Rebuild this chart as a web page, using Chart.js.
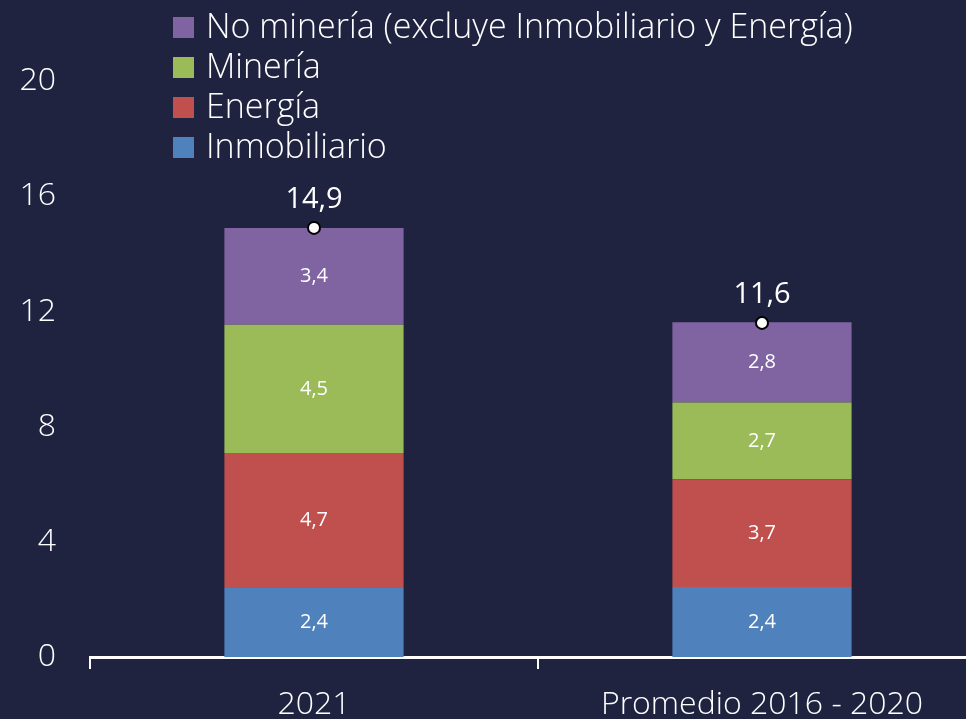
<!DOCTYPE html>
<html>
<head>
<meta charset="utf-8">
<script src="https://cdn.jsdelivr.net/npm/chart.js@4.4.1/dist/chart.umd.min.js"></script>
<style>
  html, body { margin: 0; padding: 0; background: #1f2340; overflow: hidden; }
  #wrap { position: relative; width: 994px; height: 719px; }
</style>
</head>
<body>
<div id="wrap"><canvas id="c"></canvas></div>
<script>
const categories = ['2021', 'Promedio 2016 - 2020'];
const inmobiliario = [2.40, 2.43];
const energia = [4.68, 3.74];
const mineria = [4.46, 2.67];
const noMineria = [3.36, 2.78];
const totals = [14.9, 11.6];
const yTicks = [0, 4, 8, 12, 16, 20];

const FONT = "'Open Sans', 'Segoe UI', sans-serif";
const fmt = v => v.toFixed(1).replace('.', ',');

const labelPlugin = {
  id: 'labels',
  afterDraw(chart) {
    const ctx = chart.ctx;
    ctx.save();
    ctx.fillStyle = '#ffffff';
    ctx.textAlign = 'center';
    ctx.textBaseline = 'middle';
    chart.data.datasets.forEach((ds, di) => {
      const meta = chart.getDatasetMeta(di);
      meta.data.forEach((el, i) => {
        const v = ds.data[i];
        if (ds.type === 'line') {
          ctx.font = "400 29px " + FONT;
          ctx.fillText(fmt(v), el.x, el.y - 28);
        } else {
          ctx.font = "400 20px " + FONT;
          ctx.fillText(fmt(v), el.x, (el.y + el.base) / 2);
        }
      });
    });
    // legend (reversed order, vertical list)
    const items = chart.data.datasets.filter(d => d.type !== 'line').slice().reverse();
    ctx.textAlign = 'left';
    ctx.font = "300 34px " + FONT;
    items.forEach((d, i) => {
      const cy = 27.5 + i * 40;
      ctx.fillStyle = d.backgroundColor;
      ctx.fillRect(173, cy - 10.5, 21, 21);
      ctx.fillStyle = '#ffffff';
      ctx.fillText(d.label, 206, cy + 1);
    });
    ctx.restore();
  }
};

new Chart(document.getElementById('c'), {
  data: {
    labels: categories,
    datasets: [
      { type: 'line', label: 'Total', data: totals, stack: 'total', order: 0,
        showLine: false, pointRadius: 6, pointBackgroundColor: '#ffffff',
        pointBorderColor: '#000000', pointBorderWidth: 2 },
      { type: 'bar', label: 'Inmobiliario', data: inmobiliario, backgroundColor: '#4f81bd', order: 1 },
      { type: 'bar', label: 'Energía', data: energia, backgroundColor: '#c0504d', order: 1 },
      { type: 'bar', label: 'Minería', data: mineria, backgroundColor: '#9bbb59', order: 1 },
      { type: 'bar', label: 'No minería (excluye Inmobiliario y Energía)', data: noMineria, backgroundColor: '#8064a2', order: 1 }
    ]
  },
  options: {
    responsive: true,
    maintainAspectRatio: false,
    animation: false,
    layout: { padding: { top: 81, left: 0, right: 0, bottom: 0 } },
    datasets: { bar: { barPercentage: 0.4, categoryPercentage: 1.0 } },
    plugins: { legend: { display: false }, tooltip: { enabled: false } },
    scales: {
      x: {
        stacked: true,
        afterFit(scale) { scale.height = 62; },
        grid: { display: true, drawOnChartArea: false, drawTicks: true, tickLength: 12, color: '#ffffff', lineWidth: 2, offset: true },
        border: { display: true, color: '#ffffff', width: 3 },
        ticks: { color: '#ffffff', font: { family: FONT, size: 32, weight: 300 }, padding: 17, maxRotation: 0 }
      },
      y: {
        stacked: true,
        min: 0, max: 20,
        afterFit(scale) { scale.width = 90; },
        afterBuildTicks(scale) { scale.ticks = yTicks.map(v => ({ value: v })); },
        grid: { display: false, drawTicks: false },
        border: { display: false },
        ticks: { color: '#ffffff', font: { family: FONT, size: 32, weight: 300 }, padding: 34 }
      }
    }
  },
  plugins: [labelPlugin]
});
</script>
</body>
</html>
